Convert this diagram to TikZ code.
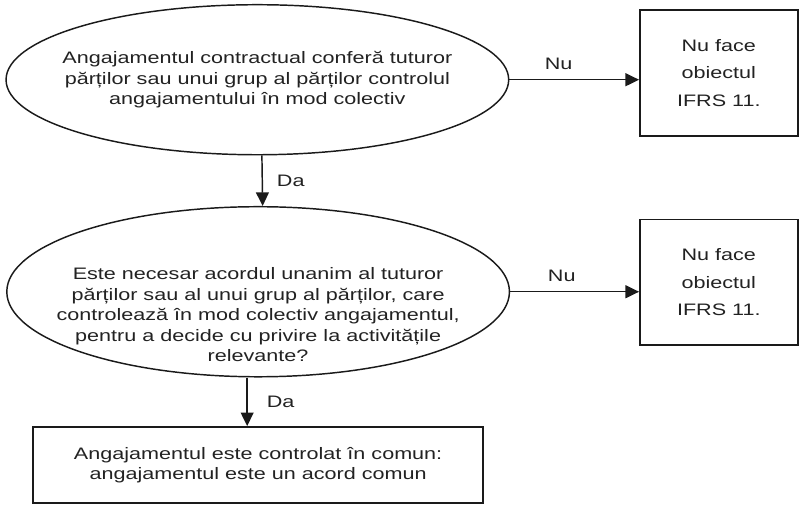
\documentclass[tikz,border=0pt]{standalone}
\usepackage{fontspec}
\setmainfont{Liberation Sans}[FakeStretch=1.3]
\usepackage{xcolor}
\usepackage{tikz}
\usetikzlibrary{positioning,arrows.meta,shapes.geometric}
\definecolor{fLine}{HTML}{1A1A1A}
\definecolor{fText}{HTML}{222222}
\tikzset{
 dshape/.style={ellipse, draw=fLine, line width=1.1pt, minimum width=13.3cm, inner sep=0pt},
 dtext/.style={align=center, text=fText, font=\fontsize{12.5}{15.5}\selectfont},
 endbox/.style={draw=fLine, line width=1.1pt, minimum width=4.18cm, minimum height=3.33cm, align=center, text=fText, font=\fontsize{12.5}{20.5}\selectfont},
 flow/.style={-{Triangle[length=3.6mm,width=3.4mm]}, draw=fLine, line width=1.1pt},
 lbl/.style={text=fText, inner sep=0pt, font=\fontsize{12.5}{15}\selectfont}
}
% decision: x, y, name, height, text shift, text
\newcommand{\dnode}[6]{%
 \node[dshape, minimum height=#4] (#3) at (#1,#2) {};%
 \node[dtext] (#3t) at ([yshift=#5]#3.center) {#6};}

\begin{document}
\begin{tikzpicture}
\useasboundingbox (0,0) rectangle (21.38,13.49);
\dnode{6.81}{11.38}{d1}{3.97cm}{0cm}{Angajamentul contractual conferă tuturor\\ părților sau unui grup al părților controlul\\ angajamentului în mod colectiv}
\dnode{6.83}{5.77}{d2}{4.50cm}{-0.61cm}{Este necesar acordul unanim al tuturor\\ părților sau al unui grup al părților, care\\ controlează în mod colectiv angajamentul,\\ pentru a decide cu privire la activitățile\\ relevante?}
\node[endbox] (b1) at (19.02,11.56) {Nu face\\ obiectul\\ IFRS 11.};
\node[endbox] (b2) at (19.02,6.02) {Nu face\\ obiectul\\ IFRS 11.};
\node[endbox, minimum width=11.91cm, minimum height=2.01cm, font=\fontsize{12.5}{15}\selectfont] (bx) at (6.83,1.19) {Angajamentul este controlat în comun:\\ angajamentul este un acord comun};
% Nu
\draw[flow] (d1.east) -- (d1.east -| b1.west) node[pos=0.38, above=0.26cm, lbl] {Nu};
\draw[flow] (d2.east) -- (d2.east -| b2.west) node[pos=0.40, above=0.26cm, lbl] {Nu};
% Da
\draw[flow] ([xshift=0.12cm]d1.south) -- ([xshift=0.12cm]d2.north) node[midway, right=0.37cm, lbl] {Da};
\draw[flow] ([xshift=-0.29cm]d2.south) -- ([xshift=-0.29cm]bx.north) node[midway, right=0.5cm, lbl] {Da};
\end{tikzpicture}
\end{document}
